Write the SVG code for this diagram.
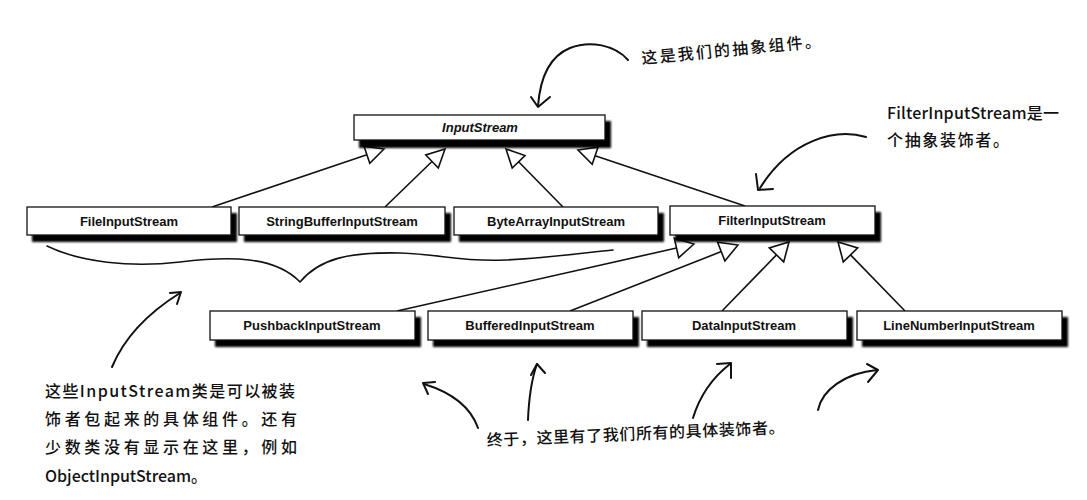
<svg xmlns="http://www.w3.org/2000/svg" width="1087" height="500" viewBox="0 0 1087 500">
<defs>
<filter id="sh" x="-5%" y="-30%" width="110%" height="160%"><feGaussianBlur stdDeviation="0.8"/></filter>
</defs>
<style>
.box{fill:#fff;stroke:#111;stroke-width:1.3}
.shadow{fill:#000;filter:url(#sh)}
.lbl{font-family:"Liberation Sans",Arial,sans-serif;font-weight:bold;font-size:13px;fill:#111;text-anchor:middle}
.it{font-style:italic}
.conn{stroke:#111;stroke-width:1.6;fill:none}
.tri{fill:#fff;stroke:#111;stroke-width:1.6;stroke-linejoin:miter}
.hand{stroke:#111;stroke-width:2;fill:none;stroke-linecap:round;stroke-linejoin:round}
.note{font-family:"Noto Sans CJK SC","Noto Sans",sans-serif;font-size:16px;font-weight:500;fill:#111}
</style>
<rect width="1087" height="500" fill="#fff"/>

<g id="connectors">
<line class="conn" x1="212" y1="207" x2="366.9" y2="154.8"/>
<polygon class="tri" points="384,149 369.8,163.3 364,146.2"/>
<line class="conn" x1="385" y1="207" x2="432" y2="161.5"/>
<polygon class="tri" points="445,149 438.3,168 425.8,155"/>
<line class="conn" x1="563" y1="207" x2="518.6" y2="161.8"/>
<polygon class="tri" points="506,149 525,155.5 512.2,168.1"/>
<line class="conn" x1="745" y1="206" x2="595.1" y2="155.7"/>
<polygon class="tri" points="578,150 598,147.2 592.2,164.2"/>
<line class="conn" x1="397" y1="311" x2="676.5" y2="248"/>
<polygon class="tri" points="694,244 678.7,257.7 674.3,238.2"/>
<line class="conn" x1="570" y1="311" x2="721.3" y2="251.6"/>
<polygon class="tri" points="738,245 724.9,260.9 717.6,242.3"/>
<line class="conn" x1="722" y1="311" x2="776.5" y2="254.9"/>
<polygon class="tri" points="789,242 783.7,261.9 769.3,247.9"/>
<line class="conn" x1="905" y1="311" x2="850.5" y2="254.9"/>
<polygon class="tri" points="838,242 857.7,247.9 843.3,261.9"/>
</g>

<g id="InputStream">
<rect class="shadow" x="359" y="121" width="252" height="27"/>
<rect class="box" x="354" y="115" width="251" height="25"/>
<text class="lbl it" x="480" y="132">InputStream</text>
</g>
<g id="FileInputStream">
<rect class="shadow" x="32" y="213" width="205" height="29"/>
<rect class="box" x="27" y="207" width="204" height="28"/>
<text class="lbl" x="129" y="225.5">FileInputStream</text>
</g>
<g id="StringBufferInputStream">
<rect class="shadow" x="244" y="213" width="207" height="29"/>
<rect class="box" x="239" y="207" width="206" height="28"/>
<text class="lbl" x="342" y="225.5">StringBufferInputStream</text>
</g>
<g id="ByteArrayInputStream">
<rect class="shadow" x="459" y="213" width="205" height="29"/>
<rect class="box" x="454" y="207" width="204" height="28"/>
<text class="lbl" x="556" y="225.5">ByteArrayInputStream</text>
</g>
<g id="FilterInputStream">
<rect class="shadow" x="675" y="212" width="206" height="30"/>
<rect class="box" x="670" y="206" width="205" height="29"/>
<text class="lbl" x="772" y="224.5">FilterInputStream</text>
</g>
<g id="PushbackInputStream">
<rect class="shadow" x="215" y="317" width="206" height="30"/>
<rect class="box" x="210" y="311" width="205" height="29"/>
<text class="lbl" x="312" y="329.5">PushbackInputStream</text>
</g>
<g id="BufferedInputStream">
<rect class="shadow" x="433" y="317" width="206" height="30"/>
<rect class="box" x="428" y="311" width="205" height="29"/>
<text class="lbl" x="530" y="329.5">BufferedInputStream</text>
</g>
<g id="DataInputStream">
<rect class="shadow" x="647" y="317" width="206" height="30"/>
<rect class="box" x="642" y="311" width="205" height="29"/>
<text class="lbl" x="744" y="329.5">DataInputStream</text>
</g>
<g id="LineNumberInputStream">
<rect class="shadow" x="862" y="317" width="206" height="30"/>
<rect class="box" x="857" y="311" width="205" height="29"/>
<text class="lbl" x="959" y="329.5">LineNumberInputStream</text>
</g>

<g id="annotations">
<path class="hand" style="stroke-width:1.6" d="M47,246 C80,262 130,268 180,262 C230,256 275,256 300,282 C320,258 350,252 400,253 C440,254 460,262 505,260 C550,258 590,252 613,250"/>
<path class="hand" d="M628,60 C615,45 590,40 570,48 C548,57 540,80 538,106"/>
<path class="hand" d="M531,97 L538,107 L550,97"/>
<text class="note" x="642" y="64" textLength="180" transform="rotate(-5.5 642 64)">这是我们的抽象组件。</text>
<path class="hand" d="M866,137 C835,128 790,140 760,188"/>
<path class="hand" d="M756,174 L758,190 L773,189"/>
<text class="note" x="887" y="119" textLength="172">FilterInputStream是一</text>
<text class="note" x="887" y="146" textLength="122">个抽象装饰者。</text>
<path class="hand" d="M112,367 C122,343 140,318 180,293"/>
<path class="hand" d="M170,293 L181,292 L177,304"/>
<text class="note" x="45" y="397" textLength="250">这些InputStream类是可以被装</text>
<text class="note" x="45" y="425" textLength="252">饰者包起来的具体组件。还有</text>
<text class="note" x="45" y="453" textLength="252">少数类没有显示在这里，例如</text>
<text class="note" x="45" y="482" textLength="162">ObjectInputStream。</text>
<path class="hand" d="M478,428 C470,405 450,392 424,384"/>
<path class="hand" d="M435,382 L423,383 L428,394"/>
<path class="hand" d="M528,420 C529,395 532,378 537,364"/>
<path class="hand" d="M531,375 L537,364 L545,373"/>
<path class="hand" d="M693,418 C700,395 712,378 730,364"/>
<path class="hand" d="M717,364 L731,363 L731,378"/>
<path class="hand" d="M818,410 C822,390 845,373 877,370"/>
<path class="hand" d="M867,364 L878,370 L868,382"/>
<text class="note" x="487" y="446" textLength="298" transform="rotate(-2.5 487 446)">终于，这里有了我们所有的具体装饰者。</text>
</g>
</svg>
